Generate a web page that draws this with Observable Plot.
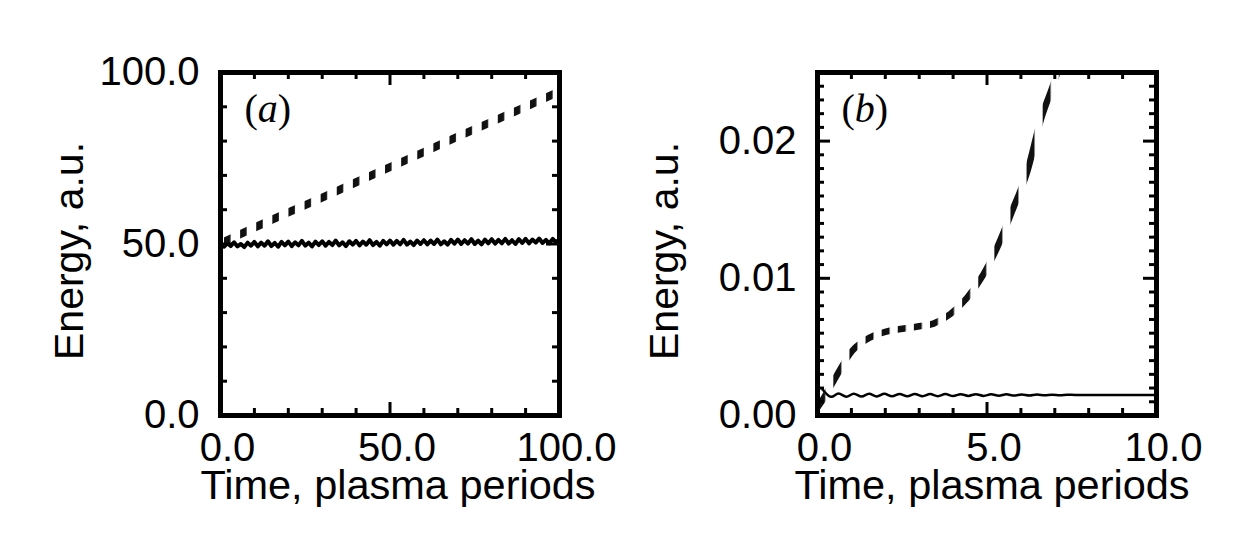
<!DOCTYPE html>
<html>
<head>
<meta charset="utf-8">
<script src="https://cdn.jsdelivr.net/npm/d3@7"></script>
<script src="https://cdn.jsdelivr.net/npm/@observablehq/plot@0.6"></script>
<style>
  html, body { margin: 0; padding: 0; background: #fff; }
  #wrap { position: relative; width: 1238px; height: 556px; overflow: hidden; background: #fff; }
  #wrap > svg { position: absolute; top: 0; }
</style>
</head>
<body>
<div id="wrap"></div>
<script>
// ---------- DATA ----------
// Panel (a): 0..100 plasma periods
const timeA = d3.range(0, 101);
const solidA = [
  50.3, 49.2, 50.2, 49.4, 50.5, 49.3, 50.0, 49.1, 50.4, 49.5,
  50.6, 49.3, 50.4, 49.5, 50.8, 49.4, 50.3, 49.2, 50.6, 49.6,
  50.7, 49.4, 50.5, 49.6, 50.9, 49.5, 50.4, 49.3, 50.7, 49.7,
  50.8, 49.5, 50.6, 49.7, 51.0, 49.6, 50.5, 49.4, 50.8, 49.8,
  50.9, 49.6, 50.7, 49.8, 51.1, 49.7, 50.6, 49.5, 50.9, 49.9,
  51.0, 49.8, 50.9, 49.9, 51.2, 49.8, 50.7, 49.7, 51.0, 50.0,
  51.1, 49.9, 51.0, 50.0, 51.3, 49.9, 50.8, 49.8, 51.2, 50.1,
  51.3, 50.0, 51.1, 50.1, 51.4, 50.0, 51.0, 49.9, 51.3, 50.2,
  51.4, 50.1, 51.2, 50.2, 51.5, 50.1, 51.1, 50.0, 51.4, 50.3,
  51.5, 50.2, 51.3, 50.4, 51.6, 50.3, 51.2, 50.2, 51.5, 50.5,
  51.4
];
const dashTimeA = [0, 10, 20, 30, 40, 50, 60, 70, 80, 90, 100];
const dashA = [50.2, 54.8, 59.2, 63.5, 68.0, 72.4, 76.8, 81.3, 85.6, 90.0, 94.5];

// Panel (b): 0..10 plasma periods
const solidTimeB = [0.15, 0.4, 0.62, 0.85, 1.07, 1.3, 1.52, 1.75, 1.97, 2.2, 2.42, 2.65, 2.87, 3.1, 3.32, 3.55, 3.77, 4.0, 4.22, 4.45, 4.67, 4.9, 5.12, 5.35, 5.57, 5.8, 6.02, 6.25, 6.47, 6.7, 6.92, 7.15, 7.37, 7.6, 8.0, 9.0, 10.0];
const solidB = [0.0019, 0.00136, 0.0016, 0.00137, 0.00159, 0.00138, 0.00158, 0.00139, 0.00158, 0.0014, 0.00157, 0.0014, 0.00157, 0.00141, 0.00156, 0.00141, 0.00156, 0.00142, 0.00155, 0.00143, 0.00155, 0.00143, 0.00154, 0.00144, 0.00154, 0.00145, 0.00153, 0.00146, 0.00153, 0.00147, 0.00152, 0.00148, 0.00151, 0.0015, 0.0015, 0.0015, 0.0015];
const dashTimeB = [0.0, 0.14, 0.48, 1.02, 1.56, 2.0, 2.45, 3.0, 3.42, 3.92, 4.42, 4.9, 5.3, 5.74, 6.19, 6.58, 7.07, 7.2];
const dashB = [0.0006, 0.0011, 0.00255, 0.0047, 0.0057, 0.0061, 0.0063, 0.0065, 0.0067, 0.0074, 0.0086, 0.0103, 0.01225, 0.0149, 0.0178, 0.0215, 0.0250, 0.0262];

// Ticks
const xMajorA = [0, 50, 100];
const xMinorA = [10, 20, 30, 40, 60, 70, 80, 90];
const yMajorA = [0, 50, 100];
const yMinorA = [10, 20, 30, 40, 60, 70, 80, 90];
const xMajorB = [0, 5, 10];
const xMinorB = [1, 2, 3, 4, 6, 7, 8, 9];
const yMajorB = [0, 0.01, 0.02];
const yMinorB = d3.range(1, 25).filter(i => i % 10 !== 0).map(i => i / 1000);

const xTitle = "Time, plasma periods";
const yTitle = "Energy, a.u.";

// ---------- DRAW ----------
const W0 = 619, H0 = 556, MT = 72, MB = 141;
const SANS = "'Liberation Sans', Arial, Helvetica, sans-serif";

function makePanel(cfg) {
  const W = W0 - cfg.ml - cfg.mr, H = H0 - MT - MB;
  const minorLen = 7, majorLen = 13;
  const tk = {stroke: "black", strokeWidth: 3};
  const inner = (arr, dom) => arr.filter(v => v > dom[0] && v < dom[1]);
  const xMaj = inner(cfg.xMajor, cfg.xDomain), yMaj = inner(cfg.yMajor, cfg.yDomain);

  const defs = (index, scales) => {
    const xs = scales && scales.x ? scales.x
      : (v => cfg.ml + (v - cfg.xDomain[0]) / (cfg.xDomain[1] - cfg.xDomain[0]) * W);
    const period = xs(cfg.xDomain[0] + cfg.dashPeriod) - xs(cfg.xDomain[0]);
    const start = xs(cfg.dashPhase) - cfg.dashLen / 2;
    const ns = "http://www.w3.org/2000/svg";
    const d = document.createElementNS(ns, "defs");
    const p = document.createElementNS(ns, "pattern");
    p.setAttribute("id", cfg.id);
    p.setAttribute("patternUnits", "userSpaceOnUse");
    p.setAttribute("x", start);
    p.setAttribute("y", 0);
    p.setAttribute("width", period);
    p.setAttribute("height", H0);
    const r = document.createElementNS(ns, "rect");
    r.setAttribute("x", 0); r.setAttribute("y", 0);
    r.setAttribute("width", cfg.dashLen); r.setAttribute("height", H0);
    r.setAttribute("fill", "#111");
    p.appendChild(r); d.appendChild(p);
    return d;
  };

  const solid = cfg.solidX.map((t, i) => ({t, e: cfg.solidY[i]}));
  const dashed = cfg.dashX.map((t, i) => ({t, e: cfg.dashY[i]}));

  const svg = Plot.plot({
    width: W0, height: H0,
    marginLeft: cfg.ml, marginRight: cfg.mr, marginTop: MT, marginBottom: MB,
    style: {fontFamily: SANS, fontSize: "40px", color: "black", background: "white"},
    x: {domain: cfg.xDomain},
    y: {domain: cfg.yDomain},
    marks: [
      defs,
      Plot.line(solid, {x: "t", y: "e", stroke: "black", strokeWidth: cfg.solidW, curve: cfg.solidCurve, clip: true}),
      Plot.line(dashed, {x: "t", y: "e", stroke: `url(#${cfg.id})`, strokeWidth: cfg.dashW, curve: "monotone-x", clip: true}),
      // minor ticks (bottom, top, left, right)
      Plot.tickX(cfg.xMinor, {x: d => d, insetTop: H - minorLen, ...tk}),
      Plot.tickX(cfg.xMinor, {x: d => d, insetBottom: H - minorLen, ...tk}),
      Plot.tickY(cfg.yMinor, {y: d => d, insetRight: W - minorLen, ...tk}),
      Plot.tickY(cfg.yMinor, {y: d => d, insetLeft: W - minorLen, ...tk}),
      // major ticks
      Plot.tickX(xMaj, {x: d => d, insetTop: H - majorLen, ...tk}),
      Plot.tickX(xMaj, {x: d => d, insetBottom: H - majorLen, ...tk}),
      Plot.tickY(yMaj, {y: d => d, insetRight: W - majorLen, ...tk}),
      Plot.tickY(yMaj, {y: d => d, insetLeft: W - majorLen, ...tk}),
      Plot.frame({stroke: "black", strokeWidth: 5}),
      Plot.axisX(cfg.xMajor, {tickSize: 0, tickPadding: 17, dx: 7, tickFormat: cfg.xFmt, label: null, fontSize: 40, fill: "black"}),
      Plot.axisY(cfg.yMajor, {tickSize: 0, tickPadding: 21, tickFormat: cfg.yFmt, label: null, fontSize: 40, fill: "black"}),
      Plot.text([xTitle], {frameAnchor: "bottom", text: d => d, lineAnchor: "top", textAnchor: "middle", dy: 54, dx: cfg.xTitleDx, fontSize: 41.5, fill: "black"}),
      Plot.text([yTitle], {frameAnchor: "left", text: d => d, rotate: -90, lineAnchor: "middle", textAnchor: "middle", dx: cfg.yTitleDx, dy: 7, fontSize: 41, fill: "black"}),
      Plot.text([cfg.tag], {frameAnchor: "top-left", text: d => d, lineAnchor: "top", textAnchor: "start", dx: 24, dy: 21, fontSize: 40, fontFamily: "'Liberation Serif', 'Times New Roman', serif", fill: "black"})
    ]
  });

  // italic letter inside parentheses of the panel tag
  svg.querySelectorAll("text").forEach(t => {
    if (t.textContent === cfg.tag) {
      const ns = "http://www.w3.org/2000/svg";
      const parts = [cfg.tag.slice(0, 1), cfg.tag.slice(1, -1), cfg.tag.slice(-1)];
      t.textContent = "";
      parts.forEach((s, i) => {
        const sp = document.createElementNS(ns, "tspan");
        sp.textContent = s;
        if (i === 1) sp.setAttribute("font-style", "italic");
        t.appendChild(sp);
      });
    }
  });
  svg.style.left = cfg.left + "px";
  return svg;
}

const wrap = document.getElementById("wrap");
wrap.appendChild(makePanel({
  id: "stripeA", left: 0, ml: 220, mr: 60, tag: "(a)",
  xDomain: [0, 100], yDomain: [0, 100],
  xMajor: xMajorA, xMinor: xMinorA, yMajor: yMajorA, yMinor: yMinorA,
  xFmt: d => d.toFixed(1), yFmt: d => d.toFixed(1),
  solidX: timeA, solidY: solidA, solidW: 4, solidCurve: "linear",
  dashX: dashTimeA, dashY: dashA, dashW: 8,
  dashPeriod: 4.75, dashPhase: 2.0, dashLen: 6.5,
  xTitleDx: 8, yTitleDx: -151
}));
wrap.appendChild(makePanel({
  id: "stripeB", left: 619, ml: 198, mr: 82, tag: "(b)",
  xDomain: [0, 10], yDomain: [0, 0.025],
  xMajor: xMajorB, xMinor: xMinorB, yMajor: yMajorB, yMinor: yMinorB,
  xFmt: d => d.toFixed(1), yFmt: d => d.toFixed(2),
  solidX: solidTimeB, solidY: solidB, solidW: 2.5, solidCurve: "catmull-rom",
  dashX: dashTimeB, dashY: dashB, dashW: 6.5,
  dashPeriod: 0.475, dashPhase: 0.11, dashLen: 8,
  xTitleDx: 5, yTitleDx: -153
}));
</script>
</body>
</html>
